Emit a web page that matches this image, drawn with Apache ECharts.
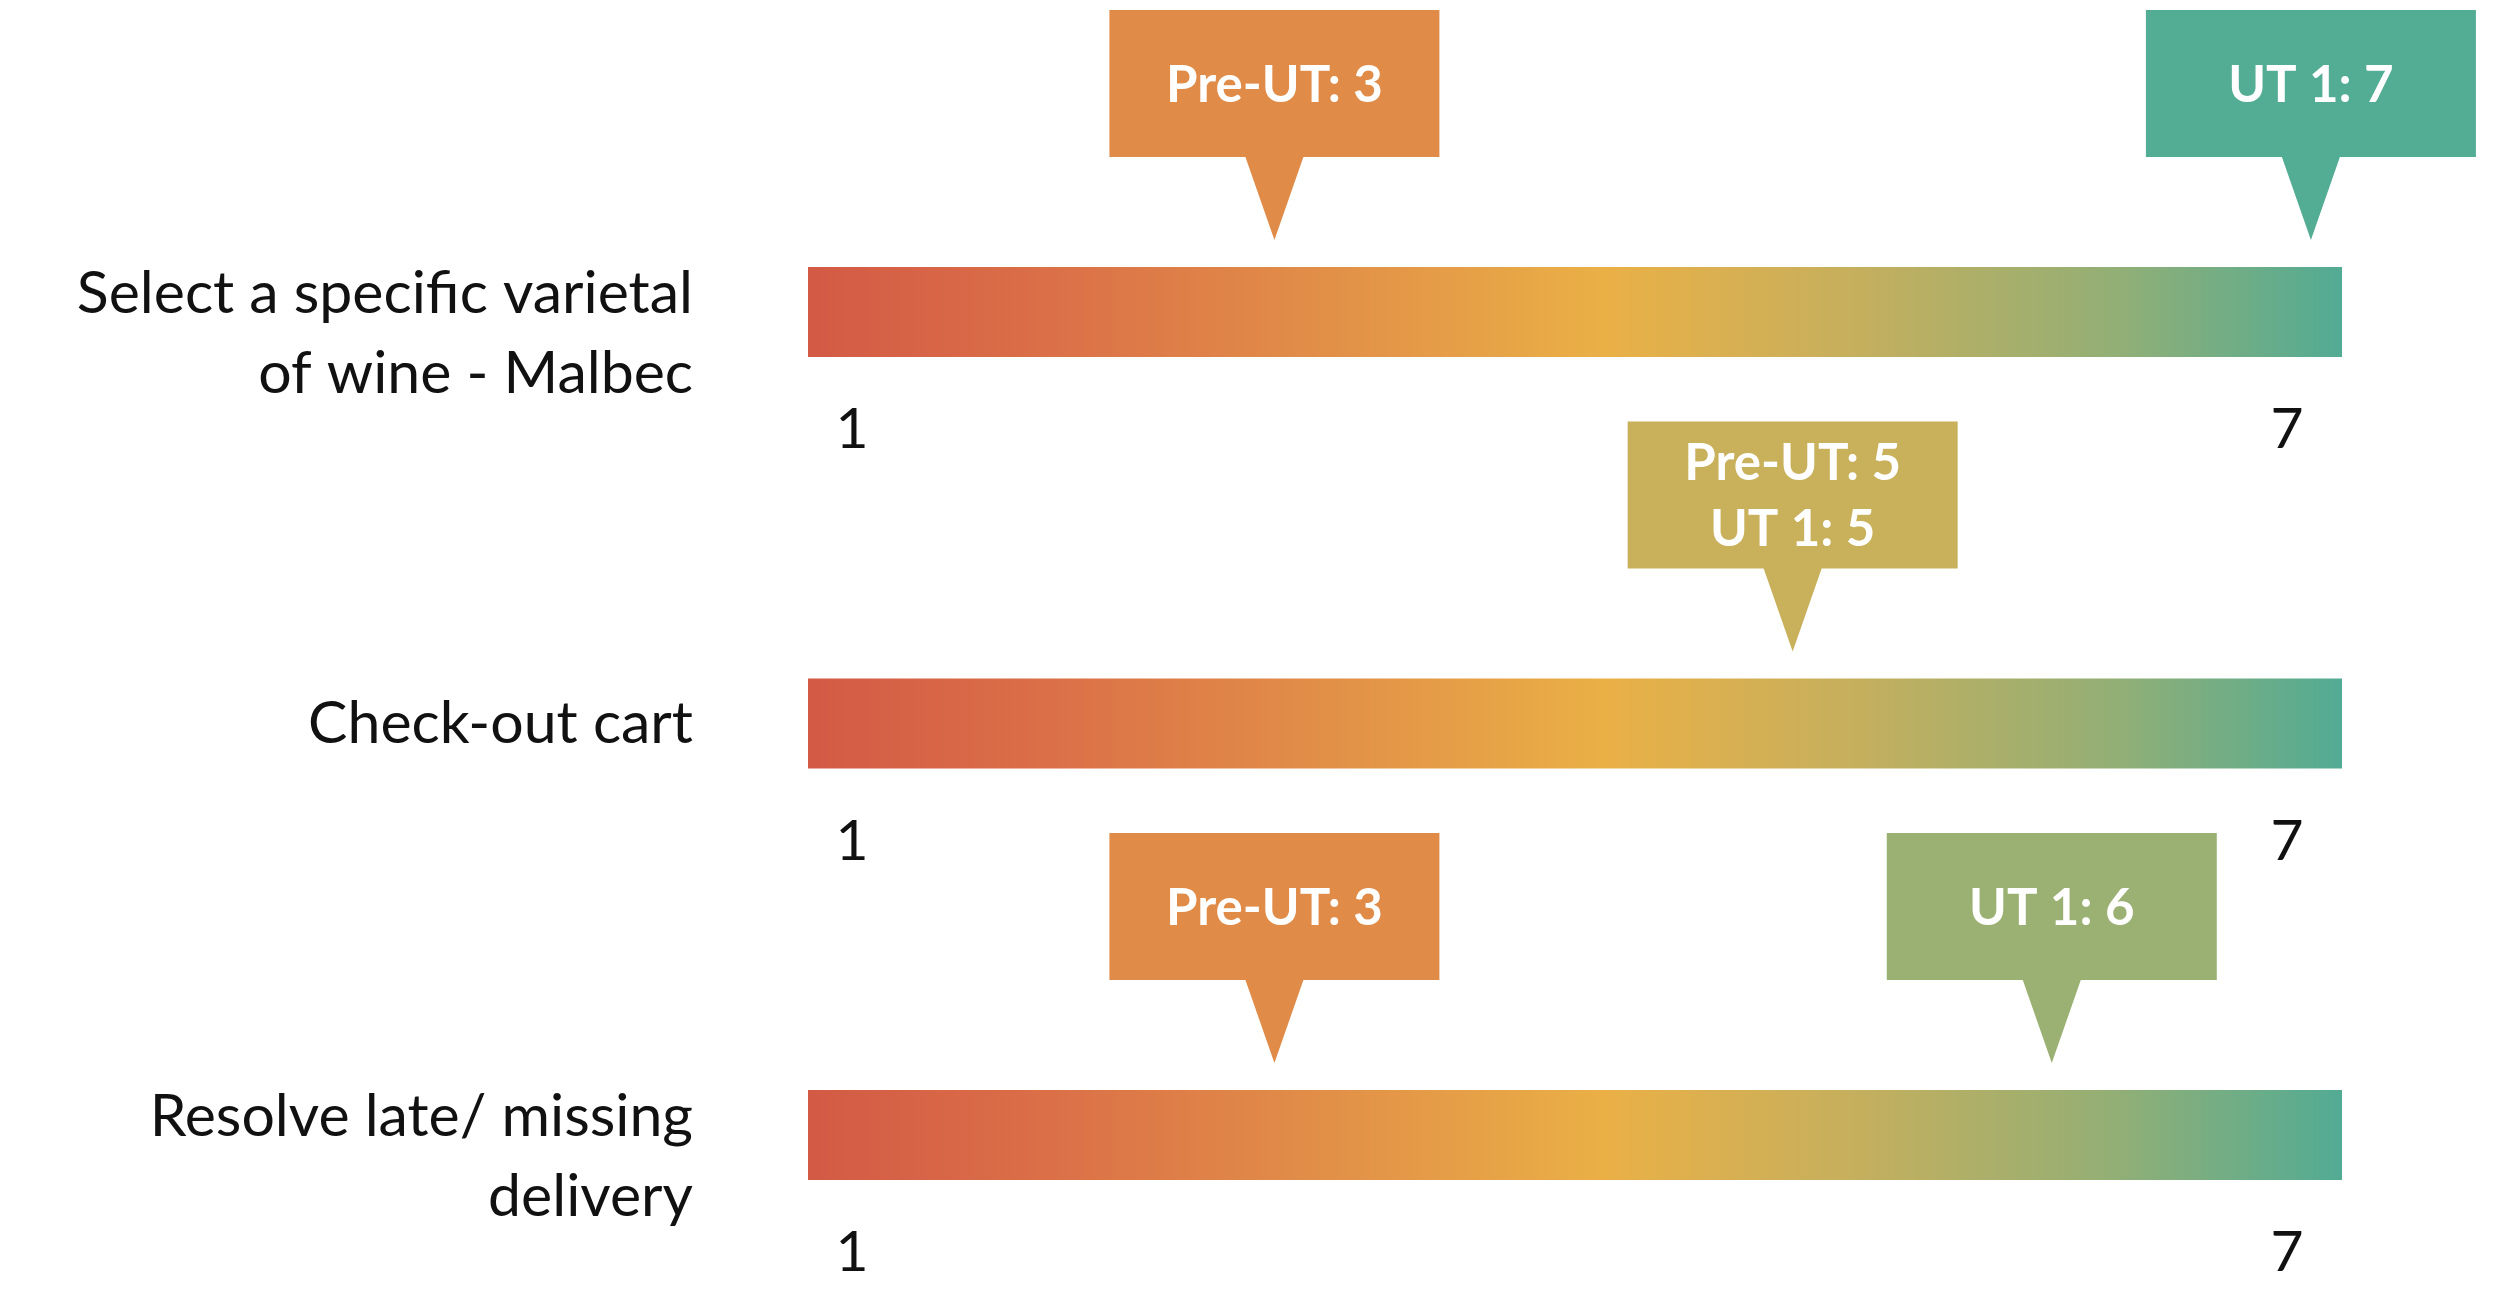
<!DOCTYPE html>
<html>
<head>
<meta charset="utf-8">
<script src="https://cdn.jsdelivr.net/npm/echarts@6/dist/echarts.min.js"></script>
<style>
  html, body { margin: 0; padding: 0; background: #fff; }
  #main { width: 2500px; height: 1292px; }
</style>
</head>
<body>
<div id="main"></div>
<script>
// tasks, top to bottom
var tasks = ['Select a specific varietal\nof wine - Malbec', 'Check-out cart', 'Resolve late/ missing\ndelivery'];
// ratings on the 1-7 scale
var preUT = [3, 5, 3];
var ut1 = [7, 5, 6];
// labels at the two ends of each scale bar
var scaleLabels = ['1', '7'];

// callout colour for each rating (picked from the bar gradient)
var calloutColors = { 3: '#E08C48', 5: '#C9B05A', 6: '#9BB073', 7: '#53AC94' };
var FONT = 'Lato';

var chart = echarts.init(document.getElementById('main'));

// one callout per distinct rating in a row
var callouts = [];
for (var i = 0; i < tasks.length; i++) {
  if (preUT[i] === ut1[i]) {
    callouts.push([preUT[i], i, 'Pre-UT: ' + preUT[i] + '\nUT 1: ' + ut1[i]]);
  } else {
    callouts.push([preUT[i], i, 'Pre-UT: ' + preUT[i]]);
    callouts.push([ut1[i], i, 'UT 1: ' + ut1[i]]);
  }
}

function renderBar(params, api) {
  var cs = params.coordSys;
  var idx = api.value(1);
  var cy = api.coord([1.2, idx])[1];
  var label = tasks[idx];
  // two-line task names hang a little below the bar centre
  var dy = label.indexOf('\n') >= 0 ? 22 : 0;
  return {
    type: 'group',
    children: [
      {
        type: 'rect',
        shape: { x: cs.x, y: cy - 45, width: cs.width, height: 90 },
        style: {
          fill: new echarts.graphic.LinearGradient(0, 0, 1, 0, [
            { offset: 0, color: '#D35A45' },
            { offset: 0.16, color: '#DB7048' },
            { offset: 0.32, color: '#E18C48' },
            { offset: 0.52, color: '#EAB046' },
            { offset: 0.68, color: '#C6AF5D' },
            { offset: 0.85, color: '#93AF75' },
            { offset: 1, color: '#52AB94' }
          ])
        }
      },
      {
        type: 'text',
        x: cs.x - 115, y: cy + dy,
        style: {
          text: label, fontSize: 59, lineHeight: 80, fontFamily: FONT,
          fill: '#111', align: 'right', verticalAlign: 'middle'
        }
      },
      {
        type: 'text',
        x: cs.x + 44, y: cy + 118,
        style: { text: scaleLabels[0], fontSize: 57, fontFamily: FONT, fill: '#111', align: 'center', verticalAlign: 'middle' }
      },
      {
        type: 'text',
        x: cs.x + cs.width - 55, y: cy + 118,
        style: { text: scaleLabels[1], fontSize: 57, fontFamily: FONT, fill: '#111', align: 'center', verticalAlign: 'middle' }
      }
    ]
  };
}

function renderCallout(params, api) {
  var v = api.value(0);
  var p = api.coord([v, api.value(1)]);
  var tx = p[0];
  var tipY = p[1] - 72;
  var bottom = tipY - 83;
  var top = bottom - 147;
  var hw = 165;
  return {
    type: 'group',
    children: [
      {
        type: 'polygon',
        shape: {
          points: [
            [tx - hw, top], [tx + hw, top], [tx + hw, bottom],
            [tx + 29, bottom], [tx, tipY], [tx - 29, bottom], [tx - hw, bottom]
          ]
        },
        style: { fill: calloutColors[v] }
      },
      {
        type: 'text',
        x: tx, y: (top + bottom) / 2 + 2,
        style: {
          text: callouts[params.dataIndex][2],
          fontSize: 51, fontWeight: 'bold', fontFamily: FONT,
          lineHeight: 66, fill: '#fff', align: 'center', verticalAlign: 'middle'
        }
      }
    ]
  };
}

var option = {
  backgroundColor: '#fff',
  animation: false,
  grid: { left: 808, right: 158, top: 312, bottom: 157 },
  xAxis: { type: 'value', min: 1.2, max: 7.12, show: false },
  yAxis: {
    type: 'category',
    data: tasks,
    inverse: true,
    boundaryGap: false,
    show: false
  },
  series: [
    {
      type: 'custom',
      renderItem: renderBar,
      encode: { x: 0, y: 1 },
      data: tasks.map(function (t, i) { return [1, i]; }),
      silent: true
    },
    {
      type: 'custom',
      renderItem: renderCallout,
      encode: { x: 0, y: 1 },
      data: callouts,
      silent: true,
      z: 3
    }
  ]
};

chart.setOption(option);
</script>
</body>
</html>
